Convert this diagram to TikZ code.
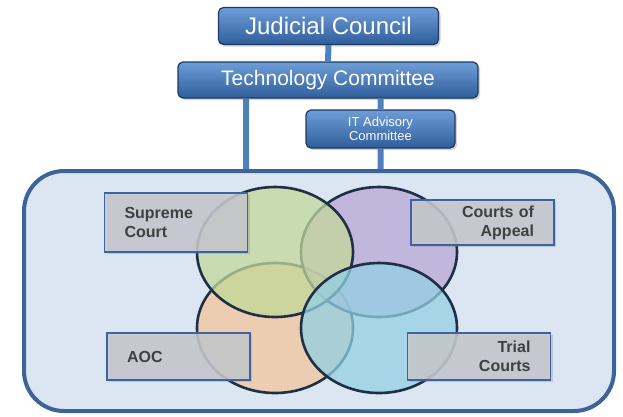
\documentclass[tikz,border=0pt]{standalone}
\usepackage{fontspec}
\setmainfont{Liberation Sans}
\usetikzlibrary{shapes.geometric,shadows,calc}
\definecolor{framefill}{HTML}{DCE6F2}
\definecolor{framedraw}{HTML}{3C6496}
\definecolor{linkblue}{HTML}{4F81BD}
\definecolor{boxtop}{HTML}{6E9DD8}
\definecolor{boxbot}{HTML}{2F5E9C}
\definecolor{boxdraw}{HTML}{1C3A66}
\definecolor{rim}{HTML}{1F2F45}
\definecolor{vgreen}{HTML}{C3D89A}
\definecolor{vpurple}{HTML}{B8A8D6}
\definecolor{vorange}{HTML}{F3C59C}
\definecolor{vcyan}{HTML}{93D0E3}
\definecolor{tagfill}{HTML}{C6C9CE}
\definecolor{tagdraw}{HTML}{3D64A0}
\definecolor{tagtext}{HTML}{404040}

\begin{document}
\begin{tikzpicture}[x=1pt,y=-1pt,
        board/.style={draw=boxdraw, line width=1.2pt, rounded corners=5pt, top color=boxtop, bottom color=boxbot,
            text=white, drop shadow={opacity=0.35, shadow xshift=2pt, shadow yshift=-2pt}},
        link/.style={draw=linkblue, line width=6pt},
        venn/.style={ellipse, draw=rim, line width=2.6pt, fill opacity=0.75, minimum width=156pt, minimum height=130pt},
        tag/.style={draw=tagdraw, line width=1.1pt, fill=tagfill, fill opacity=0.85, text opacity=1, text=tagtext,
            font=\fontsize{16}{19}\selectfont\bfseries, inner xsep=20pt, text width=103pt,
            drop shadow={opacity=0.3, shadow xshift=2pt, shadow yshift=-2pt}}]
            \useasboundingbox (0,0) rectangle (623,416);
            % frame round the four groups
            \node[draw=framedraw, fill=framefill, line width=4pt, rounded corners=40pt,
                minimum width=590pt, minimum height=240pt] at (319,291) (frame) {};
            % boards
            \node[board, minimum width=220pt, minimum height=37pt, font=\fontsize{24}{28}\selectfont] at (328.5,26) (jc) {Judicial Council};
            \node[board, minimum width=300pt, minimum height=36pt, font=\fontsize{21}{25}\selectfont] at (328,80) (tc) {Technology Committee};
            \node[board, minimum width=149pt, minimum height=38pt, align=center, font=\fontsize{13}{14}\selectfont] at (380.5,129) (it) {IT Advisory\\Committee};
            \draw[link] (jc) -- (tc)
            (tc.south -| 246,0) -- (246,0 |- frame.north)
            (tc.south -| it.north) -- (it.north)
            (it.south) -- (it.south |- frame.north)
            ;
            % overlapping groups
            \node[venn, fill=vorange] at (275,328) (aocv) {};
            \node[venn, fill=vpurple] at (379,252) (coav) {};
            \node[venn, fill=vgreen] at (275,252) (supv) {};
            \node[venn, fill=vcyan] at (379,328) (triv) {};
            % labels
            \node[tag, align=left, minimum height=59pt] at (176,222.5) (sup) {Supreme\\Court};
            \node[tag, align=left, minimum height=47pt] at (178.5,356.5) (aoc) {AOC};
            \node[tag, align=right, minimum height=45pt] at (482.5,222.5) (coa) {Courts of\\Appeal};
            \node[tag, align=right, minimum height=47pt] at (479,356.5) (tri) {Trial\\Courts};
        \end{tikzpicture}
\end{document}
